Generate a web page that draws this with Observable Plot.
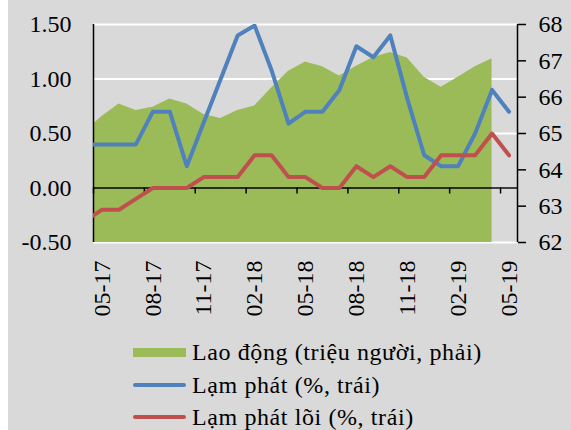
<!DOCTYPE html>
<html><head><meta charset="utf-8">
<script src="https://cdn.jsdelivr.net/npm/d3@7"></script>
<script src="https://cdn.jsdelivr.net/npm/@observablehq/plot@0.6"></script>
<style>
html,body{margin:0;padding:0;background:#fff;}
#wrap{position:relative;margin-left:8px;width:563px;height:430px;background:#d9d9d9;overflow:hidden;font-family:"Liberation Serif",serif;color:#000;}
#chart svg{display:block;}
#legend{position:absolute;left:125px;top:336px;font-size:24px;line-height:1;letter-spacing:0.6px;}
.row{display:flex;align-items:center;height:32.6px;white-space:nowrap;}
.sw{width:53px;margin-right:6px;flex:none;}
</style></head><body><div id="wrap"><div id="chart"></div><div id="legend"></div></div>
<script>
const months = ["04-17","05-17","06-17","07-17","08-17","09-17","10-17","11-17","12-17","01-18","02-18","03-18","04-18","05-18","06-18","07-18","08-18","09-18","10-18","11-18","12-18","01-19","02-19","03-19","04-19","05-19"];
const laoDong = [65.05,65.47,65.81,65.63,65.72,65.95,65.81,65.52,65.41,65.63,65.76,66.25,66.71,66.97,66.84,66.58,66.85,67.09,67.23,67.08,66.55,66.27,66.55,66.84,67.06];
const lamPhat = [0.40,0.40,0.40,0.40,0.70,0.70,0.20,0.60,1.00,1.40,1.49,1.08,0.59,0.70,0.70,0.90,1.30,1.20,1.40,0.82,0.30,0.20,0.20,0.50,0.90,0.70];
const lamPhatLoi = [-0.30,-0.20,-0.20,-0.10,0,0,0,0.10,0.10,0.10,0.30,0.30,0.10,0.10,0,0,0.20,0.10,0.20,0.10,0.10,0.30,0.30,0.30,0.50,0.30];
const xTickLabels = ["05-17","08-17","11-17","02-18","05-18","08-18","11-18","02-19","05-19"];
const leftTicks = [-0.5,0,0.5,1,1.5];
const rightTicks = [62,63,64,65,66,67,68];
const seriesNames = ["Lao động (triệu người, phải)","Lạm phát (%, trái)","Lạm phát lõi (%, trái)"];
const colors = ["#9bbb59","#4f81bd","#c0504d"];

const toLeft = v => (v - rightTicks[0]) / 3 - 0.5;
const W=563, H=330, mL=85, mR=54, mT=24, mB=88;
const pxPerUnit = (H-mT-mB)/2;
const tickLen = 6/pxPerUnit;
const rows = months.map((m,i)=>({x:i-1, month:m, lp:lamPhat[i], lpl:lamPhatLoi[i], ld:laoDong[i]}));
const areaRows = rows.filter(d=>d.ld!=null);
const xTickIdx = xTickLabels.map(l=>months.indexOf(l)-1);
const nCat = months.length-1;
const catTicks = d3.range(-0.5, nCat-1, 3);

const chart = Plot.plot({
  width: W, height: H, marginLeft: mL, marginRight: mR, marginTop: mT, marginBottom: mB,
  style: {background:"transparent", fontFamily:"Liberation Serif", fontSize:"24px", color:"#000", overflow:"visible"},
  x: {domain:[-0.5, nCat-0.5]},
  y: {domain:[leftTicks[0], leftTicks[leftTicks.length-1]]},
  marks: [
    Plot.ruleY(leftTicks, {stroke:"#fff", strokeWidth:2}),
    Plot.areaY(areaRows, {x:"x", y1: toLeft(rightTicks[0]), y2: d=>toLeft(d.ld), fill:colors[0], clip:true}),
    Plot.ruleY([0], {stroke:"#000", strokeWidth:1.5}),
    Plot.ruleX(catTicks, {y1: 0, y2: -tickLen, stroke:"#000", strokeWidth:1.5}),
    Plot.ruleX([-0.5, nCat-0.5], {stroke:"#000", strokeWidth:1.5}),
    Plot.line(rows, {x:"x", y:"lp", stroke:colors[1], strokeWidth:4, strokeLinejoin:"round", strokeLinecap:"round", clip:true}),
    Plot.line(rows, {x:"x", y:"lpl", stroke:colors[2], strokeWidth:4, strokeLinejoin:"round", strokeLinecap:"round", clip:true}),
    Plot.axisY(leftTicks, {anchor:"left", tickSize:0, tickPadding:22, label:null, tickFormat:d=>d.toFixed(2)}),
    Plot.axisY(rightTicks.map(toLeft), {anchor:"right", tickSize:8, tickPadding:13, label:null, stroke:"#000", strokeWidth:1.5, tickFormat:(d,i)=>String(rightTicks[i])}),
    Plot.axisX(xTickIdx, {anchor:"bottom", tickSize:0, tickRotate:-90, tickPadding:18, label:null, tickFormat:d=>months[d+1]})
  ]
});
document.getElementById("chart").appendChild(chart);

const leg = document.getElementById("legend");
seriesNames.forEach((name,i)=>{
  const row = document.createElement("div"); row.className="row";
  const sw = document.createElement("div"); sw.className="sw";
  sw.style.background = colors[i];
  sw.style.height = i===0 ? "9px" : "4px";
  if(i>0) sw.style.borderRadius="2px";
  const t = document.createElement("span"); t.textContent = name;
  row.appendChild(sw); row.appendChild(t); leg.appendChild(row);
});
</script></body></html>
